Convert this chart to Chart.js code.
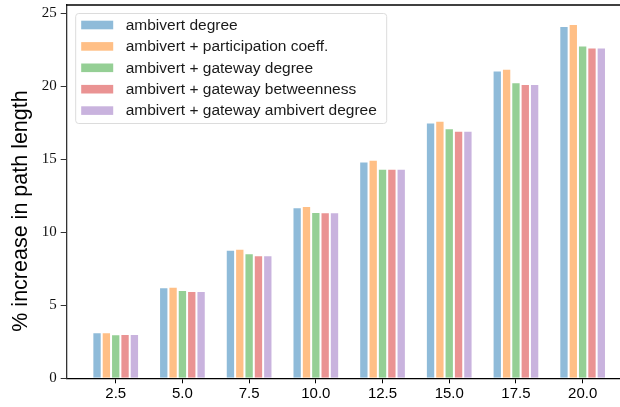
<!DOCTYPE html>
<html><head><meta charset="utf-8">
<script src="https://cdn.jsdelivr.net/npm/chart.js@4"></script>
<style>html,body{margin:0;padding:0;background:#fff}#wrap{width:620px;height:407px}</style>
</head><body><div id="wrap"><canvas id="c" width="620" height="407"></canvas></div>
<script>
const categories = [2.5, 5.0, 7.5, 10.0, 12.5, 15.0, 17.5, 20.0];
const xTickLabels = ['2.5', '5.0', '7.5', '10.0', '12.5', '15.0', '17.5', '20.0'];
const yTicks = [0, 5, 10, 15, 20, 25];
const seriesNames = [
  'ambivert degree',
  'ambivert + participation coeff.',
  'ambivert + gateway degree',
  'ambivert + gateway betweenness',
  'ambivert + gateway ambivert degree'
];
const ambivertDegree        = [3.15, 6.23, 8.79, 11.71, 14.84, 17.51, 21.07, 24.11];
const participationCoeff    = [3.15, 6.27, 8.86, 11.80, 14.95, 17.62, 21.18, 24.25];
const gatewayDegree         = [3.01, 6.05, 8.56, 11.39, 14.34, 17.12, 20.27, 22.78];
const gatewayBetweenness    = [3.03, 5.98, 8.42, 11.37, 14.34, 16.94, 20.14, 22.64];
const gatewayAmbivertDegree = [3.03, 5.98, 8.42, 11.37, 14.34, 16.94, 20.14, 22.64];
const yLabel = '% increase in path length';

const seriesValues = [ambivertDegree, participationCoeff, gatewayDegree, gatewayBetweenness, gatewayAmbivertDegree];
const colors = ['rgba(31,119,180,0.5)', 'rgba(255,127,14,0.5)', 'rgba(44,160,44,0.5)', 'rgba(214,39,40,0.5)', 'rgba(148,103,189,0.5)'];

const datasets = seriesNames.map((name, k) => ({
  label: name,
  data: categories.map((c, i) => ({x: c, y: seriesValues[k][i]})),
  backgroundColor: colors[k],
  borderColor: 'rgba(255,255,255,0.6)',
  borderWidth: 1,
  categoryPercentage: 0.7,
  barPercentage: 1.0
}));

const decor = {
  id: 'decor',
  afterDraw(chart) {
    const ctx = chart.ctx, a = chart.chartArea;
    ctx.save();
    // top spine
    ctx.strokeStyle = '#000';
    ctx.lineWidth = 1.3;
    ctx.beginPath(); ctx.moveTo(a.left - 0.6, a.top); ctx.lineTo(a.right, a.top); ctx.stroke();
    // legend
    const lx = a.left + 8.5, ly = a.top + 8, lw = 311, lh = 110;
    ctx.fillStyle = 'rgba(255,255,255,0.8)';
    ctx.strokeStyle = '#dcdcdc';
    ctx.lineWidth = 1;
    ctx.beginPath();
    ctx.roundRect(lx + 0.5, ly + 0.5, lw, lh, 3);
    ctx.fill(); ctx.stroke();
    ctx.font = '15.5px "Liberation Sans", Arial, sans-serif';
    ctx.textBaseline = 'middle';
    ctx.textAlign = 'left';
    seriesNames.forEach((name, k) => {
      const cy = ly + 12 + k * 21.4;
      ctx.fillStyle = colors[k];
      ctx.fillRect(lx + 6, cy - 4.3, 32, 8.6);
      ctx.fillStyle = '#1a1a1a';
      ctx.fillText(name, lx + 50.5, cy + 0.5);
    });
    // y label
    ctx.translate(21, 211);
    ctx.rotate(-Math.PI / 2);
    ctx.textAlign = 'center';
    ctx.font = '21.5px "Liberation Sans", Arial, sans-serif';
    ctx.fillStyle = '#000';
    ctx.fillText(yLabel, 0, 0);
    ctx.restore();
  }
};

new Chart(document.getElementById('c'), {
  type: 'bar',
  data: { datasets },
  plugins: [decor],
  options: {
    responsive: false,
    animation: false,
    devicePixelRatio: 1,
    layout: { padding: { top: 5, right: 0, left: 0, bottom: 0 } },
    plugins: { legend: { display: false }, tooltip: { enabled: false } },
    scales: {
      x: {
        type: 'linear',
        min: 0.663, max: 21.4,
        offset: false,
        afterBuildTicks: s => { s.ticks = categories.map(v => ({value: v})); },
        afterFit: s => { s.height = 28.7; s.paddingLeft = 0; s.paddingRight = 0; },
        ticks: {
          autoSkip: false, maxRotation: 0, padding: 2, color: '#000',
          font: { family: '"Liberation Sans", Arial, sans-serif', size: 15 },
          callback: (v, i) => xTickLabels[i]
        },
        grid: { offset: false, drawOnChartArea: false, drawTicks: true, tickLength: 5, tickColor: '#000', tickWidth: 1 },
        border: { display: true, color: '#000', width: 1.3 }
      },
      y: {
        min: 0, max: 25.55,
        afterBuildTicks: s => { s.ticks = yTicks.map(v => ({value: v})); },
        afterFit: s => { s.width = 66.7; s.paddingTop = 0; s.paddingBottom = 0; },
        ticks: {
          padding: 4, color: '#111',
          font: { family: '"Liberation Serif", "DejaVu Serif", serif', size: 15 },
          callback: v => String(v)
        },
        grid: { offset: false, drawOnChartArea: false, drawTicks: true, tickLength: 6, tickColor: '#333', tickWidth: 1 },
        border: { display: true, color: '#333', width: 1.3 }
      }
    }
  }
});
</script>
</body></html>
